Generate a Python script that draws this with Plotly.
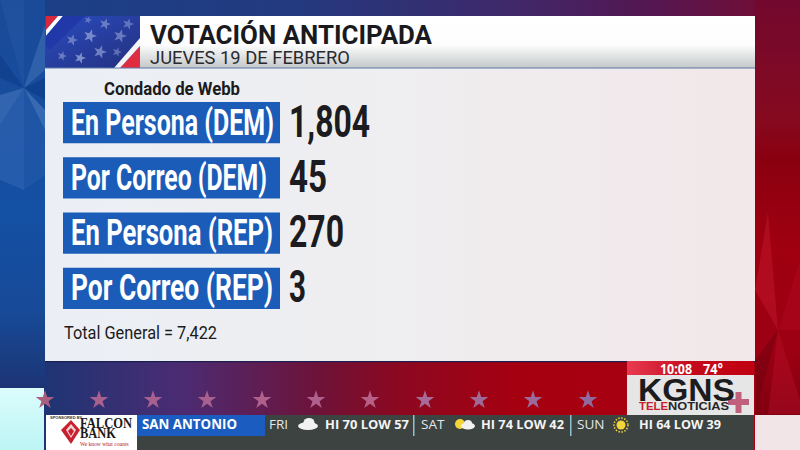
import base64
import json
import math
import plotly.graph_objects as go

# ---- data ----
categories = ["En Persona (DEM)", "Por Correo (DEM)", "En Persona (REP)", "Por Correo (REP)"]
votes = [1804, 45, 270, 3]
county = "Condado de Webb"
total_label = "Total General = 7,422"
title = "VOTACIÓN ANTICIPADA"
subtitle = "JUEVES 19 DE FEBRERO"
ticker_city = "SAN ANTONIO"
ticker_days = ["FRI", "SAT", "SUN"]
ticker_temps = ["HI 70 LOW 57", "HI 74 LOW 42", "HI 64 LOW 39"]
clock = "10:08"
temp = "74°"

BLUE = "#1b5cb8"
INK = "#1b1b20"

# widths the broadcast typeface occupies; the installed fonts are squeezed to these
text_widths = {
    "En Persona (DEM)": 203, "Por Correo (DEM)": 196, "En Persona (REP)": 202, "Por Correo (REP)": 202,
    "1,804": 81, "45": 38, "270": 55, "3": 17,
    county: 136, total_label: 153, title: 282, subtitle: 200,
    ticker_city: 95, "HI 70 LOW 57": 84, "HI 74 LOW 42": 83, "HI 64 LOW 39": 82,
    clock: 32, temp: 20, "KGNS": 97, "TELE": 29, "NOTICIAS": 61, "FALCON": 52, "BANK": 36,
}


def star_pts(cx, cy, r, rot=0.0):
    pts = []
    for i in range(10):
        rr = r if i % 2 == 0 else r * 0.4
        a = -math.pi / 2 + i * math.pi / 5 + rot
        pts.append(f"{cx + rr * math.cos(a):.1f},{cy + rr * math.sin(a):.1f}")
    return " ".join(pts)


flag_stars = "".join(
    f'<polygon points="{star_pts(x, y, r, 0.3)}" fill="#b9c6ee" opacity="{o}"/>'
    for x, y, r, o in [(90, 36, 7, .55), (105, 24, 6, .45), (72, 40, 6, .45), (120, 36, 7, .45),
                       (62, 56, 5, .45), (80, 58, 6, .6), (100, 52, 7, .5), (128, 24, 6, .4),
                       (117, 52, 5, .4), (60, 30, 4, .4), (88, 20, 4, .4)]
)
burst = "".join(
    f'<polygon points="{p}" fill="{c}" opacity="{o}"/>'
    for p, c, o in [
        ("24,88 45,25 45,70", "#5c8ac8", .35),
        ("24,88 0,55 0,78", "#0c3a86", .55),
        ("24,88 45,78 45,100", "#0c3a86", .6),
        ("24,88 45,110 45,130", "#6a96d0", .4),
        ("24,88 0,95 0,125", "#5c8ac8", .4),
        ("24,88 24,190 0,180 0,125", "#3f74bb", .4),
        ("24,88 45,130 45,175 24,190", "#2e62ae", .4),
        ("24,88 0,0 24,0", "#2e62ae", .25),
        ("778,330 768,212 755,290", "#d02038", .35),
        ("778,330 800,260 800,330", "#c01030", .25),
        ("778,330 755,360 755,414", "#6d0010", .5),
        ("778,330 800,400 800,414 768,414", "#c01030", .35),
    ]
)
svg = f'''<svg xmlns="http://www.w3.org/2000/svg" width="800" height="450" viewBox="0 0 800 450">
<defs>
<linearGradient id="top" x1="0" x2="1" y1="0" y2="0">
<stop offset="0" stop-color="#1a4088"/><stop offset=".35" stop-color="#223a80"/><stop offset=".62" stop-color="#3d2a6c"/>
<stop offset=".82" stop-color="#551650"/><stop offset="1" stop-color="#7a0a2c"/></linearGradient>
<linearGradient id="low" x1="0" x2="1" y1="0" y2="0">
<stop offset="0" stop-color="#1a3474"/><stop offset=".06" stop-color="#1f3474"/><stop offset=".23" stop-color="#4c2b72"/>
<stop offset=".4" stop-color="#6e1238"/><stop offset=".5" stop-color="#8c0820"/><stop offset=".65" stop-color="#a60010"/><stop offset="1" stop-color="#a80010"/></linearGradient>
<linearGradient id="left" x1="0" x2="0" y1="0" y2="1">
<stop offset="0" stop-color="#1a4a98"/><stop offset=".55" stop-color="#1450a4"/><stop offset=".8" stop-color="#174a98"/><stop offset="1" stop-color="#1c3474"/></linearGradient>
<linearGradient id="right" x1="0" x2="0" y1="0" y2="1">
<stop offset="0" stop-color="#72082e"/><stop offset=".28" stop-color="#850a20"/><stop offset=".38" stop-color="#8a0010"/>
<stop offset=".6" stop-color="#a00010"/><stop offset=".85" stop-color="#9c0012"/><stop offset="1" stop-color="#800010"/></linearGradient>
<linearGradient id="panel" x1="0" x2="1" y1="0" y2="0">
<stop offset="0" stop-color="#ebeff5"/><stop offset=".5" stop-color="#efeef0"/><stop offset="1" stop-color="#f2e7e9"/></linearGradient>
<linearGradient id="head" x1="0" x2="0" y1="0" y2="1">
<stop offset="0" stop-color="#ffffff"/><stop offset=".55" stop-color="#fdfdfd"/><stop offset="1" stop-color="#c4c8c9"/></linearGradient>
<linearGradient id="flag" x1="0" x2="1" y1="0" y2="1">
<stop offset="0" stop-color="#2a4cc0"/><stop offset="1" stop-color="#24307e"/></linearGradient>
<linearGradient id="clock" x1="0" x2="1" y1="0" y2="0">
<stop offset="0" stop-color="#e83a50"/><stop offset=".5" stop-color="#c40a1c"/><stop offset="1" stop-color="#c00010"/></linearGradient>
<linearGradient id="cy" x1="0" x2="0" y1="0" y2="1">
<stop offset="0" stop-color="#dcfcfc"/><stop offset="1" stop-color="#bdf5f5"/></linearGradient>
</defs>
<rect width="800" height="450" fill="url(#low)"/>
<rect width="800" height="16" fill="url(#top)"/>
<rect x="0" y="0" width="45" height="388" fill="url(#left)"/>
<rect x="755" y="0" width="45" height="415" fill="url(#right)"/>
{burst}
<rect x="45" y="16" width="95" height="52" fill="url(#flag)"/>
{flag_stars}
<polygon points="46,16 58,16 46,30" fill="#d8283c"/><polygon points="58,16 63,16 46,36 46,30" fill="#ffffff"/>
<polygon points="63,16 85,16 50,50 46,46 46,36" fill="#2038a8"/>
<polygon points="120,68 140,46 140,68" fill="#e02c40"/><polygon points="114,68 140,38 140,46 120,68" fill="#f4f4f8"/>
<rect x="140" y="16" width="615" height="52" fill="url(#head)"/>
<rect x="45" y="68" width="710" height="293" fill="url(#panel)"/>
<rect x="45" y="67.5" width="710" height="1" fill="#5f78a8"/>
<rect x="45" y="361" width="710" height="1.2" fill="#1c2050"/>
<rect x="627" y="361" width="127" height="14" fill="url(#clock)"/>
<rect x="627" y="375" width="127" height="40" fill="#e6e6e7"/>
<rect x="0" y="388" width="44" height="62" fill="url(#cy)"/>
<rect x="755" y="415" width="45" height="35" fill="#f2e5e8"/>
<rect x="46" y="415" width="91" height="35" fill="#ffffff"/>
<rect x="137" y="415" width="617" height="35" fill="#3c4341"/>
<rect x="137" y="415" width="128" height="21" fill="#1a5cc0"/>
<rect x="413" y="415" width="1.5" height="21" fill="#8fc0d0"/><rect x="570" y="415" width="1.5" height="21" fill="#8fc0d0"/>
<polygon points="71,420 80,430 71,444 61,430" fill="#c8202e"/>
<polygon points="71,424 76,430 71,438 66,430" fill="#ffffff" opacity=".8"/>
<polygon points="71,428 74,431 71,436 68,431" fill="#c8202e"/>
<ellipse cx="308" cy="426" rx="10" ry="4" fill="#f2f2f2"/><ellipse cx="309" cy="422.5" rx="5.5" ry="4.5" fill="#f2f2f2"/>
<circle cx="460" cy="424" r="5" fill="#f3d53a"/><ellipse cx="468" cy="426" rx="7" ry="3.5" fill="#f2f2f2"/><ellipse cx="468" cy="423.5" rx="4" ry="3.5" fill="#f2f2f2"/>
<circle cx="621" cy="425" r="4.5" fill="#f3d53a"/>
<circle cx="621" cy="425" r="7" fill="none" stroke="#f3d53a" stroke-width="1.5" stroke-dasharray="1.5 1.5"/>
<rect x="728" y="399" width="21" height="6" fill="#c0607c"/><rect x="735.5" y="392" width="6" height="21" fill="#c0607c"/>
</svg>'''
bg = "data:image/svg+xml;base64," + base64.b64encode(svg.encode()).decode()

fig = go.Figure()
# rows of the table: category axis placed over the panel
fig.add_trace(go.Bar(
    y=categories, x=[217] * 4, base=63, orientation="h", width=0.745,
    marker=dict(color=BLUE, line_width=0), xaxis="x", yaxis="y2", hoverinfo="skip",
))
fig.add_trace(go.Scatter(
    y=categories, x=[71] * 4, mode="text", text=categories, textposition="middle right",
    textfont=dict(family="Roboto", size=36, color="#ffffff", weight="bold"), xaxis="x", yaxis="y3", hoverinfo="skip",
))
fig.add_trace(go.Scatter(
    y=categories, x=[289] * 4, mode="text", text=[f"{v:,}" for v in votes], textposition="middle right",
    textfont=dict(family="Roboto", size=44, color=INK, weight="bold"), xaxis="x", yaxis="y3", hoverinfo="skip",
))
# decorative stars along the lower band
fig.add_trace(go.Scatter(
    x=[45, 99, 153, 207, 262, 316, 370, 425, 479, 533, 588], y=[400] * 11, mode="markers",
    marker=dict(symbol="star", size=14, line_width=0,
                color=["#a8607e", "#a8608e", "#a8608e", "#a8608e", "#b0608c", "#b0608c", "#b86088",
                       "#a86a96", "#a06a96", "#9a6a9a", "#906a9e"]),
    xaxis="x", yaxis="y", hoverinfo="skip",
))


def txt(x, y, s, size, color, family="Roboto", bold=False, anchor="left"):
    fig.add_annotation(x=x - 2, y=y, xref="x", yref="y", text=s, showarrow=False,
                       xanchor=anchor, yanchor="middle", align=anchor,
                       font=dict(family=family, size=size, color=color, weight="bold" if bold else "normal"))


txt(150, 35, title, 26, "#1a1a1e", "Roboto", True)
txt(150, 58, subtitle, 17.5, "#2a2a2e", "Roboto")
txt(104, 88, county, 18, INK, "Roboto", True)
txt(64, 332, total_label, 19, INK, "Roboto")
txt(142, 424, ticker_city, 13.5, "#ffffff", "Open Sans", True)
for x, s in zip([269, 421, 577], ticker_days):
    txt(x, 424, s, 13.5, "#e4e8e8", "Open Sans")
for x, s in zip([325, 481, 639], ticker_temps):
    txt(x, 424, s, 13, "#f4f4f4", "Open Sans", True)
txt(660, 368, clock, 14, "#ffffff", "Open Sans", True)
txt(703, 368, temp, 14, "#ffffff", "Open Sans", True)
txt(638, 390, "KGNS", 31, "#1c1c1e", "Liberation Sans", True)
txt(639, 406, "TELE", 11.5, "#c8202e", "Liberation Sans", True)
txt(668, 406, "NOTICIAS", 11.5, "#26262a", "Liberation Sans", True)
txt(80, 423, "FALCON", 14, "#1a1a1a", "Liberation Serif", True)
txt(80, 433, "BANK", 14, "#1a1a1a", "Liberation Serif", True)
txt(80, 444, "We know what counts", 5.5, "#b02030", "Liberation Serif")
txt(50, 417, "SPONSORED BY", 4, "#333333", "Liberation Sans", True)

row_axis = dict(type="category", categoryorder="array", categoryarray=categories,
                range=[3.5, -0.5], visible=False, anchor="x", fixedrange=True)
fig.update_layout(
    width=800, height=450, margin=dict(l=0, r=0, t=0, b=0), autosize=False,
    paper_bgcolor="#ffffff", plot_bgcolor="rgba(0,0,0,0)", showlegend=False, barmode="overlay",
    xaxis=dict(range=[0, 800], domain=[0, 1], visible=False, fixedrange=True),
    yaxis=dict(range=[450, 0], domain=[0, 1], visible=False, fixedrange=True),
    yaxis2=dict(domain=[1 - 316 / 450, 1 - 95 / 450], **row_axis),
    yaxis3=dict(domain=[1 - 319 / 450, 1 - 98 / 450], **row_axis),
    images=[dict(source=bg, xref="paper", yref="paper", x=0, y=1, sizex=1, sizey=1,
                 xanchor="left", yanchor="top", sizing="stretch", layer="below")],
)

post = """
document.body.style.margin = '0';
var W = %s;
var gd = document.getElementById('{plot_id}');
function squeeze() {
  gd.querySelectorAll('text').forEach(function (t) {
    var w = W[t.textContent];
    if (w) { t.setAttribute('textLength', w); t.setAttribute('lengthAdjust', 'spacingAndGlyphs'); }
  });
}
squeeze();
if (gd.on) gd.on('plotly_afterplot', squeeze);
setTimeout(squeeze, 100);
""" % json.dumps(text_widths, ensure_ascii=False)
fig.write_html("out.html", config={"displayModeBar": False}, post_script=post)
